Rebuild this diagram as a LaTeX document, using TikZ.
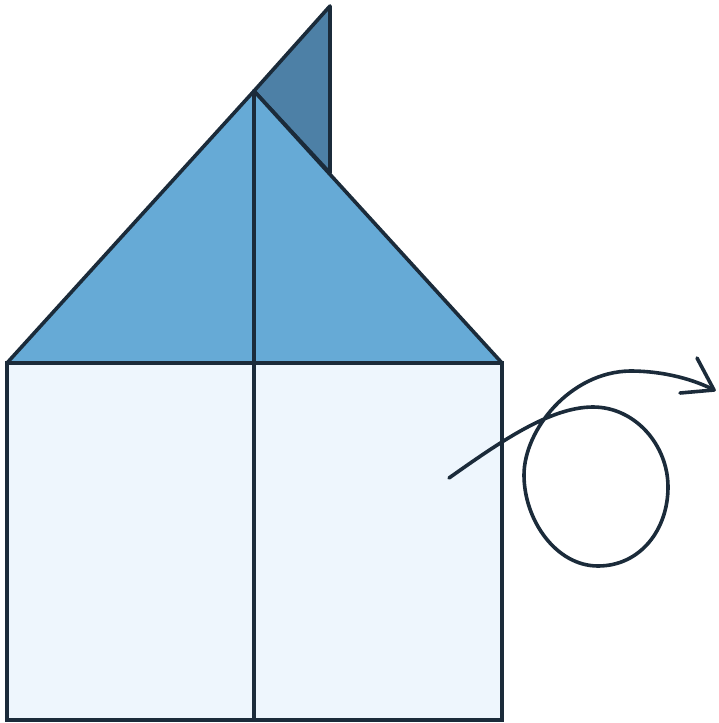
\documentclass[tikz,border=0pt]{standalone}
\definecolor{ink}{HTML}{1B2B3A}
\definecolor{roof}{HTML}{66AAD6}
\definecolor{flap}{HTML}{4D80A6}
\definecolor{wall}{HTML}{EEF6FD}
\tikzset{edge/.style={draw=ink,line width=3.6pt,line join=round,line cap=round}}
\begin{document}
\begin{tikzpicture}[x=1pt,y=-1pt]
\useasboundingbox (0,0) rectangle (719,723);
% points
\coordinate (BL) at (7,720);
\coordinate (BR) at (502,720);
\coordinate (ML) at (7,363);
\coordinate (MR) at (502,363);
\coordinate (A) at (254,91);
\coordinate (MB) at (254,720);
\coordinate (FT) at (330,6);
\coordinate (FB) at (330,173);
% flap
\filldraw[edge,fill=flap] (A) -- (FT) -- (FB) -- cycle;
% wall
\filldraw[edge,line join=miter,fill=wall] (ML) rectangle (BR);
% roof
\filldraw[edge,fill=roof] (ML) -- (A) -- (MR) -- cycle;
% divider
\draw[edge] (A) -- (MB);
% looping arrow
\coordinate (S) at (449,478);
\coordinate (LT) at (593,407);
\coordinate (LR) at (668,487);
\coordinate (LB) at (598,566);
\coordinate (LL) at (524,475);
\coordinate (UP) at (630,371);
\coordinate (T) at (714,390);
\coordinate (H1) at (697,358);
\coordinate (H2) at (680,393);
\draw[edge] (S) .. controls (500,442) and (550,407) .. (LT)
  .. controls (635,407) and (668,445) .. (LR)
  .. controls (668,530) and (640,566) .. (LB)
  .. controls (556,566) and (524,520) .. (LL)
  .. controls (524,430) and (570,372) .. (UP)
  .. controls (665,371) and (695,380) .. (T);
\draw[edge] (H1) -- (T) -- (H2);
\end{tikzpicture}
\end{document}
